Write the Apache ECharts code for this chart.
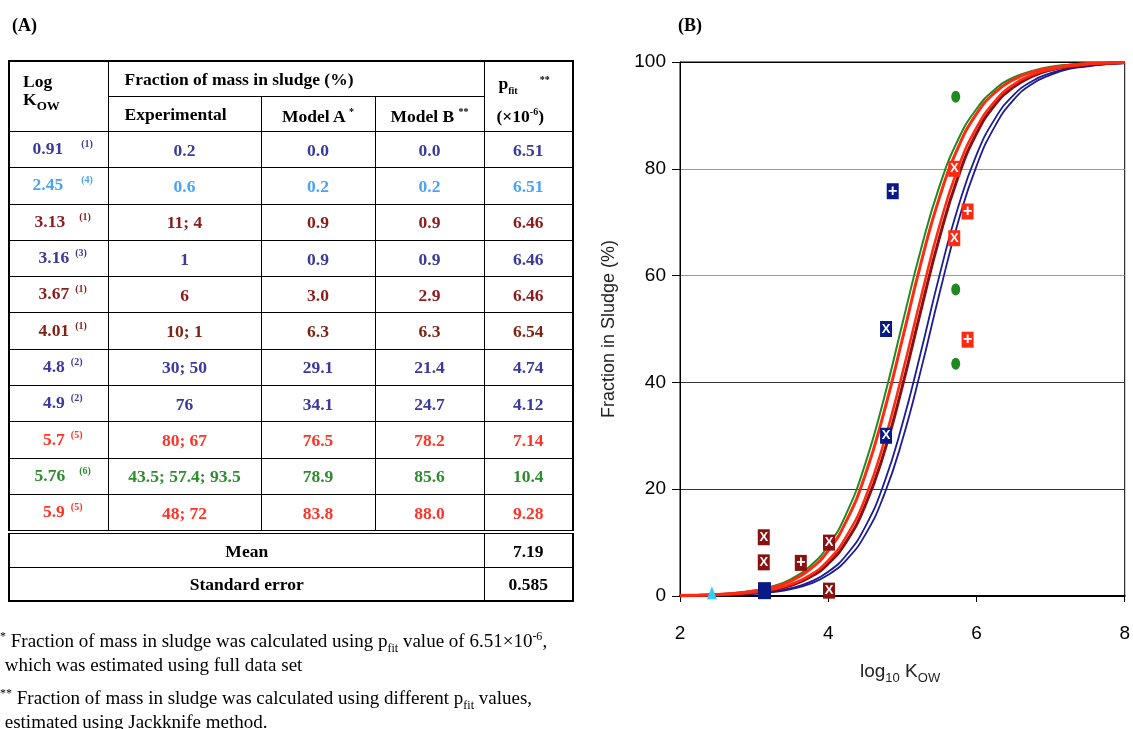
<!DOCTYPE html>
<html>
<head>
<meta charset="utf-8">
<script src="https://cdn.jsdelivr.net/npm/echarts@6/dist/echarts.min.js"></script>
<style>
html,body{margin:0;padding:0;background:#fff;width:1133px;height:729px;overflow:hidden;}
#chart{position:absolute;left:0;top:0;width:1133px;height:729px;}
.ov{position:absolute;z-index:2;}
.serif{font-family:'Liberation Serif','Times New Roman',serif;color:#000;}
#tbl{border-collapse:collapse;table-layout:fixed;font-family:'Liberation Serif','Times New Roman',serif;font-weight:bold;font-size:17.5px;border:2px solid #000;}
#tbl td{border:1.5px solid #000;padding:0;text-align:center;line-height:18px;}
#tbl tr.dr td{height:35.3px;}
#tbl tr.sr td{height:32.5px;}
#tbl tr.hr td{height:34px;}
#tbl sup.r{font-size:10px;position:relative;top:-7px;vertical-align:baseline;}
#tbl td.lk{text-align:left;vertical-align:top;padding:10px 0 0 13px;}
#tbl td.hd{text-align:left;padding-left:16px;}
#tbl td.c1{padding-left:8px;}
#tbl tr.mean td{border-top:4px double #000;}
.fn{font-size:19px;line-height:21px;white-space:nowrap;}
.fn sub{font-size:12px;position:relative;top:5px;vertical-align:baseline;}
.fn sup{font-size:12px;position:relative;top:-7px;vertical-align:baseline;}
#xname{font-family:'Liberation Sans',Arial,sans-serif;font-size:19px;color:#222;}
#xname sub{font-size:13px;position:relative;top:5px;vertical-align:baseline;}
</style>
</head>
<body>
<div id="chart"></div>
<div class="ov serif" style="left:12px;top:15px;font-weight:bold;font-size:18px;">(A)</div>
<div class="ov serif" style="left:678px;top:15px;font-weight:bold;font-size:18px;">(B)</div>
<div class="ov" style="left:8px;top:60px;"><table id="tbl"></table></div>
<div class="ov serif fn" style="left:0px;top:630px;"><sup>*</sup> Fraction of mass in sludge was calculated using p<sub>fit</sub> value of 6.51×10<sup>-6</sup>,<br>&nbsp;which was estimated using full data set</div>
<div class="ov serif fn" style="left:0px;top:687px;"><sup>**</sup> Fraction of mass in sludge was calculated using different p<sub>fit</sub> values,<br>&nbsp;estimated using Jackknife method.</div>
<div class="ov" id="xname" style="left:860px;top:660px;">log<sub>10</sub> K<sub>OW</sub></div>
<script>
// ---------- Table (A) data ----------
const logKow = ['0.91','2.45','3.13','3.16','3.67','4.01','4.8','4.9','5.7','5.76','5.9'];
const refs = ['(1)','(4)','(1)','(3)','(1)','(1)','(2)','(2)','(5)','(6)','(5)'];
const experimental = ['0.2','0.6','11; 4','1','6','10; 1','30; 50','76','80; 67','43.5; 57.4; 93.5','48; 72'];
const modelA = ['0.0','0.2','0.9','0.9','3.0','6.3','29.1','34.1','76.5','78.9','83.8'];
const modelB = ['0.0','0.2','0.9','0.9','2.9','6.3','21.4','24.7','78.2','85.6','88.0'];
const pfit = ['6.51','6.51','6.46','6.46','6.46','6.54','4.74','4.12','7.14','10.4','9.28'];
const meanPfit = '7.19';
const stdErrPfit = '0.585';
const rowColors = ['#3a3a9c','#4aa3f5','#8b1c1c','#3a3a9c','#8b1c1c','#7f2414','#3a3a9c','#3a3a9c','#ff3328','#2e8b2e','#ff3328'];
const refGaps = [18, 18, 14, 6, 6, 6, 6, 6, 6, 14, 6];

// ---------- Chart (B) data ----------
const curveX = [2,2.25,2.5,2.75,3,3.25,3.5,3.75,4,4.25,4.5,4.75,5,5.25,5.5,5.75,6,6.25,6.5,6.75,7,7.25,7.5,7.75,8];
const curveGreen = [0.10,0.18,0.33,0.58,1.03,1.82,3.18,5.53,9.42,15.6,24.8,36.9,51.0,64.9,76.7,85.4,91.2,94.9,97.1,98.3,99.1,99.5,99.7,99.8,99.9];
const curveRed1 = [0.09,0.17,0.29,0.52,0.92,1.62,2.85,4.96,8.49,14.2,22.7,34.3,48.1,62.3,74.6,83.9,90.3,94.3,96.7,98.1,98.9,99.4,99.7,99.8,99.9];
const curveRed2 = [0.07,0.13,0.23,0.40,0.71,1.25,2.21,3.86,6.66,11.3,18.4,28.7,41.7,55.9,69.3,80.1,87.7,92.7,95.8,97.6,98.6,99.2,99.6,99.8,99.9];
const curveDarkRed = [0.06,0.11,0.20,0.36,0.64,1.14,2.00,3.51,6.07,10.3,17.0,26.7,39.3,53.5,67.1,78.4,86.6,92.0,95.3,97.3,98.5,99.1,99.5,99.7,99.9];
const curveBlue1 = [0.05,0.08,0.15,0.27,0.47,0.84,1.48,2.60,4.53,7.77,13.0,21.0,32.2,45.7,60.0,72.7,82.6,89.4,93.8,96.4,97.9,98.8,99.3,99.6,99.8];
const curveBlue2 = [0.04,0.07,0.13,0.23,0.41,0.73,1.29,2.26,3.96,6.83,11.5,18.8,29.2,42.3,56.6,69.9,80.5,88.0,92.9,95.9,97.6,98.7,99.2,99.6,99.8];

const navyPlus = [[4.87, 75.8]];
const navyX = [[4.78, 50], [4.78, 30]];
const navySquare = [[3.14, 1]];
const lightBlueTriangle = [[2.43, 0.6]];
const darkRedX = [[3.13, 11], [3.13, 6.3], [4.01, 10], [4.01, 1]];
const darkRedPlus = [[3.63, 6.2]];
const redX = [[5.7, 80], [5.7, 67]];
const redPlus = [[5.88, 72], [5.88, 48]];
const greenDots = [[5.72, 93.5], [5.72, 57.4], [5.72, 43.5]];

// ---------- Build table ----------
(function(){
  const t = document.getElementById('tbl');
  let h = '<colgroup><col style="width:99px"><col style="width:153px"><col style="width:114px"><col style="width:109px"><col style="width:89px"></colgroup>';
  h += '<tr class="hr"><td class="lk" rowspan="2">Log<br>K<sub style="font-size:13px">OW</sub></td>'+
       '<td class="hd" colspan="3">Fraction of mass in sludge (%)</td>'+
       '<td rowspan="2" style="text-align:left;vertical-align:top;padding:10px 0 0 14px;line-height:22px;">p<sub style="font-size:10px">fit</sub><sup style="font-size:10px;margin-left:22px;position:relative;top:-6px;vertical-align:baseline">**</sup><br><span style="margin-left:-2px">(×10<sup style="font-size:10px">-6</sup>)</span></td></tr>';
  h += '<tr class="hr"><td class="hd">Experimental</td><td>Model A <sup style="font-size:10px">*</sup></td><td>Model B <sup style="font-size:10px">**</sup></td></tr>';
  for (let i = 0; i < logKow.length; i++) {
    const c = rowColors[i];
    h += '<tr class="dr" style="color:'+c+'"><td class="c1">'+logKow[i]+'<sup class="r" style="margin-left:'+refGaps[i]+'px">'+refs[i]+'</sup></td><td>'+experimental[i]+'</td><td>'+modelA[i]+'</td><td>'+modelB[i]+'</td><td>'+pfit[i]+'</td></tr>';
  }
  h += '<tr class="sr mean"><td colspan="4">Mean</td><td>'+meanPfit+'</td></tr>';
  h += '<tr class="sr"><td colspan="4">Standard error</td><td>'+stdErrPfit+'</td></tr>';
  t.innerHTML = h;
})();

// ---------- Chart ----------
const chart = echarts.init(document.getElementById('chart'), null, {renderer:'canvas'});
function pairs(ys){ return curveX.map((x,i)=>[x, ys[i]]); }
function lineSeries(ys, color, width, z){
  return {type:'line', data:pairs(ys), smooth:true, showSymbol:false, symbol:'none', z:z,
    lineStyle:{color:color, width:width}, silent:true};
}
function boxSeries(data, color, glyph, fs){
  return {type:'scatter', data:data, symbol:'rect', symbolSize:[12,16], z:10,
    itemStyle:{color:color, opacity:1},
    label:{show:true, position:'inside', formatter:glyph, color:'#fff', fontSize:fs, fontWeight:'bold', fontFamily:'Liberation Sans'}};
}
const option = {
  animation:false,
  backgroundColor:'transparent',
  grid:{left:680, right:8, top:62, bottom:133, show:true, borderColor:'#000', borderWidth:1, containLabel:false},
  xAxis:{type:'value', min:2, max:8, interval:2,
    axisLine:{show:true, lineStyle:{color:'#000', width:2}},
    axisTick:{show:true, length:6, lineStyle:{color:'#000'}},
    axisLabel:{color:'#000', fontSize:19, fontFamily:'Liberation Sans', margin:28},
    splitLine:{show:false}},
  yAxis:{type:'value', min:0, max:100, interval:20,
    name:'Fraction in Sludge (%)', nameLocation:'middle', nameRotate:90, nameGap:62,
    nameTextStyle:{color:'#222', fontSize:18, fontFamily:'Liberation Sans'},
    axisLine:{show:true, lineStyle:{color:'#000', width:1}},
    axisTick:{show:true, length:8, lineStyle:{color:'#000'}},
    axisLabel:{color:'#000', fontSize:19, fontFamily:'Liberation Sans', margin:14},
    splitLine:{show:true, lineStyle:{color:['#000','#333','#333','#999','#999','#000'], width:1}}},
  series:[
    lineSeries(curveBlue2, '#1c1c96', 1.8, 2),
    lineSeries(curveBlue1, '#1c1c96', 1.8, 2),
    lineSeries(curveDarkRed, '#8b0f0f', 3, 3),
    lineSeries(curveGreen, '#1f8a1f', 2, 4),
    lineSeries(curveRed2, '#ff2a10', 2.5, 5),
    lineSeries(curveRed1, '#ff2a10', 3, 5),
    {type:'scatter', data:lightBlueTriangle, symbol:'triangle', symbolSize:[10,13], z:10, itemStyle:{color:'#33ccff', opacity:1}},
    {type:'scatter', data:navySquare, symbol:'rect', symbolSize:[13,17], z:10, itemStyle:{color:'#0a1a85', opacity:1}},
    boxSeries(navyPlus, '#0a1a85', '+', 16),
    boxSeries(navyX, '#0a1a85', 'X', 13),
    boxSeries(darkRedX, '#8b1111', 'X', 13),
    boxSeries(darkRedPlus, '#8b1111', '+', 16),
    boxSeries(redX, '#ff2a10', 'X', 13),
    boxSeries(redPlus, '#ff2a10', '+', 16),
    {type:'scatter', data:greenDots, symbol:'circle', symbolSize:[9,12], z:10, itemStyle:{color:'#1f8a1f', opacity:1}}
  ]
};
chart.setOption(option);
</script>
</body>
</html>
